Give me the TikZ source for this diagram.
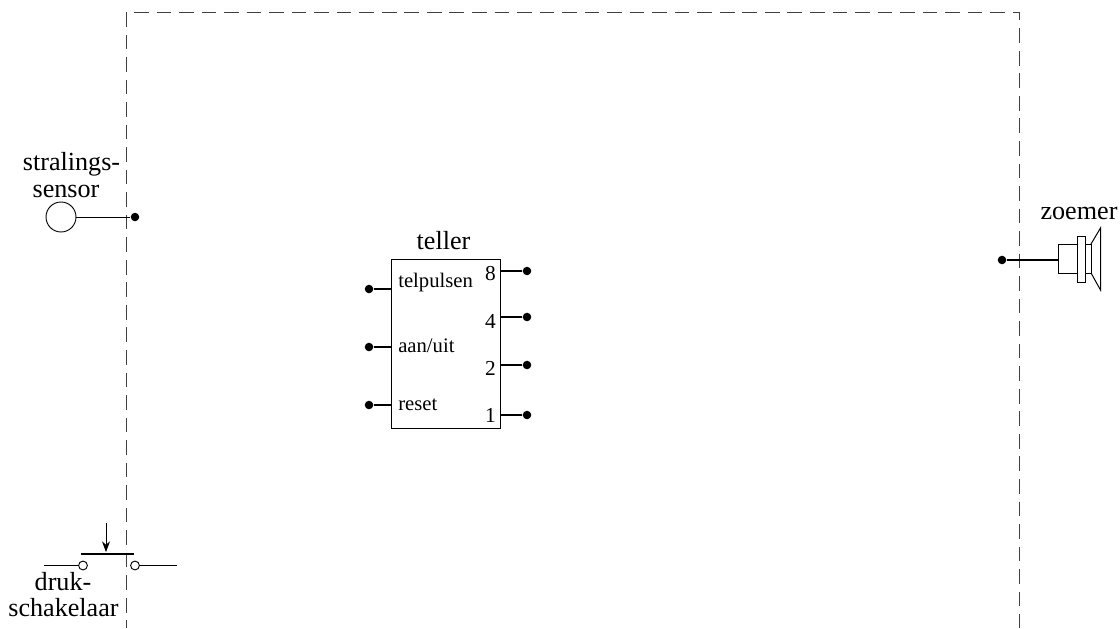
\documentclass[tikz,border=0pt]{standalone}
\usepackage{fontspec}
\setmainfont{Liberation Serif}
\usetikzlibrary{arrows.meta}
\tikzset{
  x=0.75pt,y=-0.75pt,
  wire/.style={draw=black,line width=0.85pt},
  thinwire/.style={draw=black,line width=0.65pt},
  frame/.style={draw=black!75,line width=0.7pt,dash pattern=on 11pt off 5.9pt},
  dot/.style={circle,fill=black,draw=none,inner sep=0pt,minimum size=6.4pt},
  hollow/.style={circle,draw=black,fill=white,line width=0.7pt,inner sep=0pt,minimum size=6.6pt},
  biglabel/.style={font=\fontsize{19.6pt}{20pt}\selectfont,inner sep=0pt,anchor=base},
  smalllabel/.style={font=\fontsize{15.5pt}{17pt}\selectfont,inner sep=0pt,anchor=base west},
  digit/.style={font=\fontsize{16pt}{17pt}\selectfont,inner sep=0pt,anchor=base east},
  part/.style={draw=black,line width=0.75pt,fill=white}
}
\begin{document}
\begin{tikzpicture}
\useasboundingbox (0,0) rectangle (1120,628);
% frame
\coordinate (fb1) at (126,628); \coordinate (ftl) at (126,12);
\coordinate (ftr) at (1019,12); \coordinate (fb2) at (1019,628);
\draw[frame] (ftl) -- (fb1);
\draw[frame] (134,12) -- (ftr) -- (fb2);
% sensor
\node[circle,draw=black,line width=0.7pt,inner sep=0pt,minimum size=22.5pt] (sensor) at (61,217) {};
\node[dot] (sdot) at (135,217) {};
\draw[thinwire] (sensor) -- (sdot);
\node[biglabel] (l1) at (71.5,170) {stralings-};
\node[biglabel] (l2) at (66,197) {sensor};
% counter
\node[draw=black,line width=0.75pt,minimum width=82pt,minimum height=126.75pt,inner sep=0pt] (box) at (446.25,343.5) {};
\node[biglabel] (tel) at (443.5,249) {teller};
\node[smalllabel] (t1) at (398,287) {telpulsen};
\node[smalllabel] (t2) at (398,352) {aan/uit};
\node[smalllabel] (t3) at (398,410) {reset};
\node[digit] (d8) at (496,280) {8};
\node[digit] (d4) at (496,328) {4};
\node[digit] (d2) at (496,375) {2};
\node[digit] (d1) at (496,422) {1};
\foreach \n/\y in {a/289,b/347,c/405}{
  \node[dot] (i\n) at (369,\y) {};
  \draw[wire] (i\n) -- (i\n -| box.west);
}
\foreach \n/\y in {a/271,b/317,c/365,d/415}{
  \node[dot] (o\n) at (527,\y) {};
  \draw[wire] (o\n) -- (o\n -| box.east);
}
% buzzer
\node[dot] (bdot) at (1002,260) {};
\coordinate (bin) at (1058,260);
\draw[wire] (bdot) -- (bin);
\draw[part] (1091,244) -- (1100.5,228) -- (1100.5,290) -- (1091,273);
\draw[part] (1058,244) rectangle (1077,273);
\draw[part] (1085,244) rectangle (1091,273);
\draw[part] (1077,236) rectangle (1085,282);
\node[biglabel] (zo) at (1079,219) {zoemer};
% switch
\coordinate (w1) at (44,565.5); \coordinate (w2) at (177,565.5);
\node[hollow] (c1) at (83,565.5) {};
\node[hollow] (c2) at (135,565.5) {};
\draw[wire] (w1) -- (c1);
\draw[wire] (c2) -- (w2);
\coordinate (b1) at (81,554); \coordinate (b2) at (134,554);
\draw[draw=black,line width=1.5pt] (b1) -- (b2);
\coordinate (a1) at (106,523); \coordinate (a2) at (106,552);
\draw[thinwire,-{Stealth[length=8pt,width=6pt]}] (a1) -- (a2);
\node[biglabel] (dr) at (63,590) {druk-};
\node[biglabel] (sc) at (63.5,616) {schakelaar};
\end{tikzpicture}
\end{document}
